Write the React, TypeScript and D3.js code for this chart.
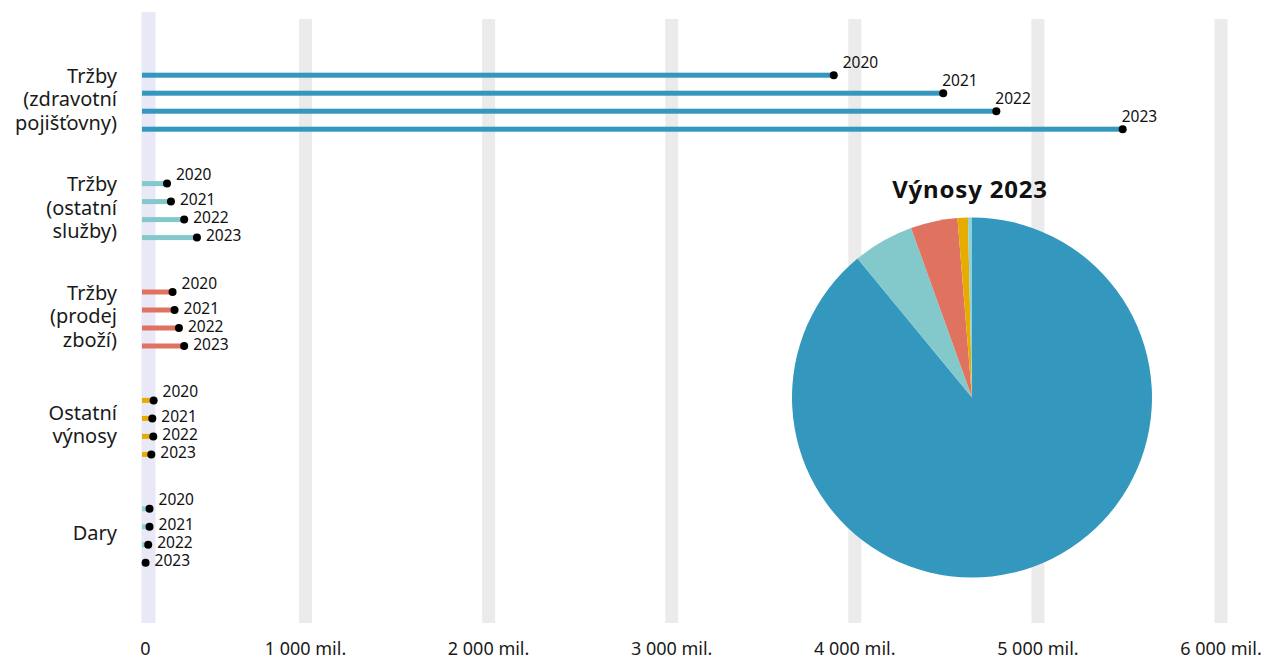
import { useEffect, useRef } from "react";
import * as d3 from "d3";

// values in mil. Kč
const categories = [
  "Tržby (zdravotní pojišťovny)",
  "Tržby (ostatní služby)",
  "Tržby (prodej zboží)",
  "Ostatní výnosy",
  "Dary",
];
const categoryLines = [
  ["Tržby", "(zdravotní", "pojišťovny)"],
  ["Tržby", "(ostatní", "služby)"],
  ["Tržby", "(prodej", "zboží)"],
  ["Ostatní", "výnosy"],
  ["Dary"],
];
const years = ["2020", "2021", "2022", "2023"];
const zdravotniPojistovny = [3885, 4483, 4773, 5463];
const ostatniSluzby = [153, 177, 258, 336];
const prodejZbozi = [187, 199, 226, 258];
const ostatniVynosy = [71, 63, 69, 57];
const dary = [46, 46, 38, 22];
const xTicks = [0, 1000, 2000, 3000, 4000, 5000, 6000];
const colors = ["#3498be", "#83c9cc", "#e0735f", "#e6ad00", "#8ed1db"];
const pieTitle = "Výnosy 2023";

const series = [zdravotniPojistovny, ostatniSluzby, prodejZbozi, ostatniVynosy, dary];

const fmtTick = (v: number) =>
  v === 0 ? "0" : `${d3.format(",")(v).replace(/,/g, " ")} mil.`;

export default function App() {
  const svgRef = useRef<SVGSVGElement>(null);

  useEffect(() => {
    document.body.style.margin = "0";
    if (!svgRef.current) return;
    const svg = d3.select(svgRef.current);
    svg.selectAll("*").remove();

    const font = "'Noto Sans', sans-serif";

    // axis is not uniform between 0 and 1000 in the original
    const x = d3.scaleLinear().domain([0, 1000, 6000]).range([142, 305.5, 1221]);
    const y = d3.scaleBand<string>().domain(categories).range([48, 590]);
    const yIn = d3.scalePoint<string>().domain(years).range([-27, 27]);
    const gridTop = 19;
    const gridBottom = 623;

    // grid bands
    svg
      .append("g")
      .selectAll("rect")
      .data(xTicks)
      .enter()
      .append("rect")
      .attr("x", (d) => (d === 0 ? x(0) - 0.5 : x(d) - 6.5))
      .attr("y", (d) => (d === 0 ? gridTop - 7 : gridTop))
      .attr("width", (d) => (d === 0 ? 14 : 13))
      .attr("height", (d) => (d === 0 ? gridBottom - gridTop + 7 : gridBottom - gridTop))
      .attr("fill", (d) => (d === 0 ? "#e8e8f6" : "#ebebeb"));

    // tick labels
    svg
      .append("g")
      .selectAll("text")
      .data(xTicks)
      .enter()
      .append("text")
      .attr("x", (d) => (d === 0 ? x(0) + 3.5 : x(d)))
      .attr("y", 655)
      .attr("text-anchor", "middle")
      .attr("font-family", font)
      .attr("font-size", 18)
      .attr("fill", "#1a1a1a")
      .text(fmtTick);

    // category labels
    const lineH = 23.5;
    const labels = svg.append("g");
    categories.forEach((c, ci) => {
      const lines = categoryLines[ci];
      const cy = (y(c) as number) + y.bandwidth() / 2;
      const t = labels
        .append("text")
        .attr("text-anchor", "end")
        .attr("font-family", font)
        .attr("font-size", 20)
        .attr("fill", "#1a1a1a");
      lines.forEach((ln, li) => {
        t.append("tspan")
          .attr("x", x(0) - 25)
          .attr("y", cy + (li - (lines.length - 1) / 2) * lineH + 4)
          .text(ln);
      });
    });

    // lollipop bars
    const bars = svg.append("g");
    categories.forEach((c, ci) => {
      const cy = (y(c) as number) + y.bandwidth() / 2;
      const vals = series[ci];
      const g = bars.append("g");
      g.selectAll("rect")
        .data(vals)
        .enter()
        .append("rect")
        .attr("x", x(0))
        .attr("y", (_, i) => cy + (yIn(years[i]) as number) - 2.5)
        .attr("width", (d) => x(d) - x(0))
        .attr("height", 5)
        .attr("fill", colors[ci]);
      g.selectAll("circle")
        .data(vals)
        .enter()
        .append("circle")
        .attr("cx", (d) => x(d))
        .attr("cy", (_, i) => cy + (yIn(years[i]) as number))
        .attr("r", 4)
        .attr("fill", "#000");
      g.selectAll("text")
        .data(vals)
        .enter()
        .append("text")
        .attr("x", (d, i) => x(d) + (d > 1000 && i > 0 ? -1 : 9))
        .attr("y", (d, i) => {
          const yy = cy + (yIn(years[i]) as number);
          const off = d > 1000 ? -13 : i === 0 ? -9 : -2;
          return yy + off + 5.5;
        })
        .attr("font-family", font)
        .attr("font-size", 15.5)
        .attr("fill", "#111")
        .text((_, i) => years[i]);
    });

    // pie of the last year
    const last = series.map((s) => s[s.length - 1]);
    const pie = d3.pie<number>().sort(null).value((d) => d);
    const arc = d3.arc<d3.PieArcDatum<number>>().innerRadius(0).outerRadius(180);
    const pg = svg.append("g").attr("transform", "translate(972,397.5)");
    pg.selectAll("path")
      .data(pie(last))
      .enter()
      .append("path")
      .attr("d", arc)
      .attr("fill", (_, i) => colors[i]);

    svg
      .append("text")
      .attr("x", 970)
      .attr("y", 198)
      .attr("text-anchor", "middle")
      .attr("font-family", font)
      .attr("font-size", 24)
      .attr("font-weight", 700)
      .attr("letter-spacing", 0.8)
      .attr("fill", "#111")
      .text(pieTitle);
  }, []);

  return (
    <svg
      ref={svgRef}
      width={1266}
      height={659}
      style={{ display: "block", background: "#fff" }}
    />
  );
}
